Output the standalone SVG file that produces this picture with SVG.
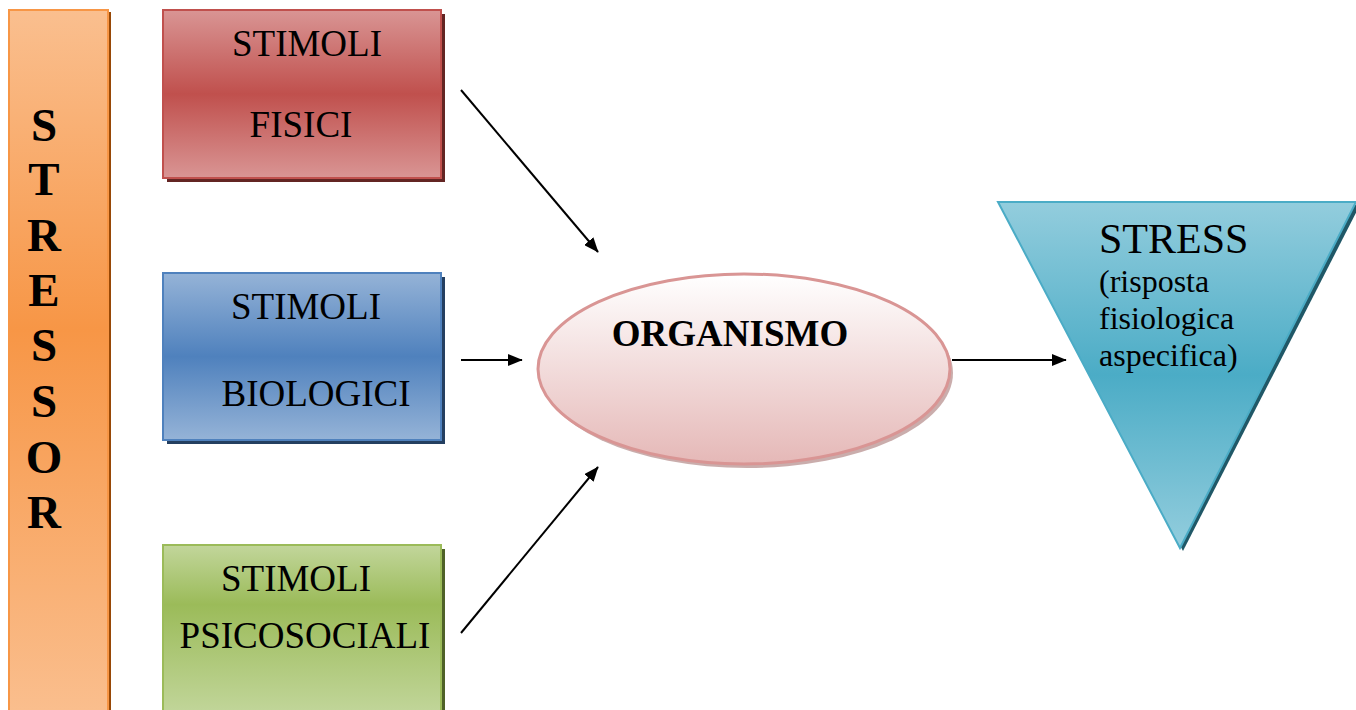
<svg xmlns="http://www.w3.org/2000/svg" width="1356" height="710" viewBox="0 0 1356 710">
<style>
.t{font-family:"Liberation Serif","Times New Roman",serif;fill:#000}
.lab{font-size:37px}
.st{font-size:47px;font-weight:bold}
.conn{stroke:#000;stroke-width:2;fill:none;marker-end:url(#ah)}
</style>
<defs>
<marker id="ah" viewBox="0 0 10 8" refX="9.5" refY="4" markerWidth="7.5" markerHeight="6" orient="auto" markerUnits="strokeWidth"><path d="M0,0 L10,4 L0,8 z" fill="#000"/></marker>
<linearGradient id="gO" x1="0" y1="0" x2="0" y2="1"><stop offset="0" stop-color="#fabf8f"/><stop offset="0.45" stop-color="#f79646"/><stop offset="1" stop-color="#fabf8f"/></linearGradient>
<linearGradient id="gR" x1="0" y1="0" x2="0" y2="1"><stop offset="0" stop-color="#d99594"/><stop offset="0.5" stop-color="#c0504d"/><stop offset="1" stop-color="#d99594"/></linearGradient>
<linearGradient id="gB" x1="0" y1="0" x2="0" y2="1"><stop offset="0" stop-color="#95b3d7"/><stop offset="0.5" stop-color="#4f81bd"/><stop offset="1" stop-color="#95b3d7"/></linearGradient>
<linearGradient id="gG" x1="0" y1="0" x2="0" y2="1"><stop offset="0" stop-color="#c2d69b"/><stop offset="0.35" stop-color="#9bbb59"/><stop offset="1" stop-color="#c2d69b"/></linearGradient>
<linearGradient id="gE" x1="0" y1="0" x2="0" y2="1"><stop offset="0" stop-color="#ffffff"/><stop offset="1" stop-color="#e5b8b7"/></linearGradient>
<linearGradient id="gT" x1="0" y1="0" x2="0" y2="1"><stop offset="0" stop-color="#93cddd"/><stop offset="0.5" stop-color="#4bacc6"/><stop offset="1" stop-color="#93cddd"/></linearGradient>
</defs>

<g id="stressor">
<rect x="12" y="12" width="99" height="710" fill="#974806"/>
<rect x="9" y="10" width="99" height="710" fill="url(#gO)" stroke="#f79646" stroke-width="2"/>
<g class="t st" text-anchor="middle">
<text x="44" y="141">S</text>
<text x="44" y="195">T</text>
<text x="44" y="251">R</text>
<text x="44" y="306">E</text>
<text x="44" y="361">S</text>
<text x="44" y="417">S</text>
<text x="44" y="473">O</text>
<text x="44" y="528">R</text>
</g>
</g>

<g id="fisici">
<rect x="167" y="14" width="278" height="168" fill="#632523"/>
<rect x="163" y="10" width="278" height="168" fill="url(#gR)" stroke="#c0504d" stroke-width="2"/>
<text class="t lab" x="307" y="56" text-anchor="middle">STIMOLI</text>
<text class="t lab" x="301" y="137" text-anchor="middle">FISICI</text>
</g>

<g id="biologici">
<rect x="167" y="277" width="278" height="167" fill="#243f60"/>
<rect x="163" y="273" width="278" height="167" fill="url(#gB)" stroke="#4f81bd" stroke-width="2"/>
<text class="t lab" x="306" y="319" text-anchor="middle">STIMOLI</text>
<text class="t lab" x="316" y="406" text-anchor="middle">BIOLOGICI</text>
</g>

<g id="psicosociali">
<rect x="167" y="549" width="278" height="170" fill="#4f6228"/>
<rect x="163" y="545" width="278" height="170" fill="url(#gG)" stroke="#9bbb59" stroke-width="2"/>
<text class="t lab" x="296" y="591" text-anchor="middle">STIMOLI</text>
<text class="t lab" x="305" y="648" text-anchor="middle">PSICOSOCIALI</text>
</g>

<g id="organismo">
<ellipse cx="747" cy="373" rx="206" ry="95" fill="#b38a89" opacity="0.7"/>
<ellipse cx="744" cy="369" rx="206" ry="95" fill="url(#gE)" stroke="#d99594" stroke-width="3"/>
<text class="t" x="730" y="346" text-anchor="middle" font-size="37" font-weight="bold">ORGANISMO</text>
</g>

<g id="stress">
<polygon points="1001,205 1360,205 1183,551" fill="#205867"/>
<polygon points="998,202 1356,202 1180,548" fill="url(#gT)" stroke="#4bacc6" stroke-width="2"/>
<text class="t" x="1099" y="253" font-size="42">STRESS</text>
<text class="t" x="1099" y="292" font-size="32">(risposta</text>
<text class="t" x="1099" y="329" font-size="32">fisiologica</text>
<text class="t" x="1099" y="366" font-size="32">aspecifica)</text>
</g>

<g id="connectors">
<line class="conn" x1="461" y1="90" x2="598" y2="252"/>
<line class="conn" x1="461" y1="360" x2="522" y2="360"/>
<line class="conn" x1="461" y1="633" x2="598" y2="467"/>
<line class="conn" x1="952" y1="360" x2="1066" y2="360"/>
</g>
</svg>
